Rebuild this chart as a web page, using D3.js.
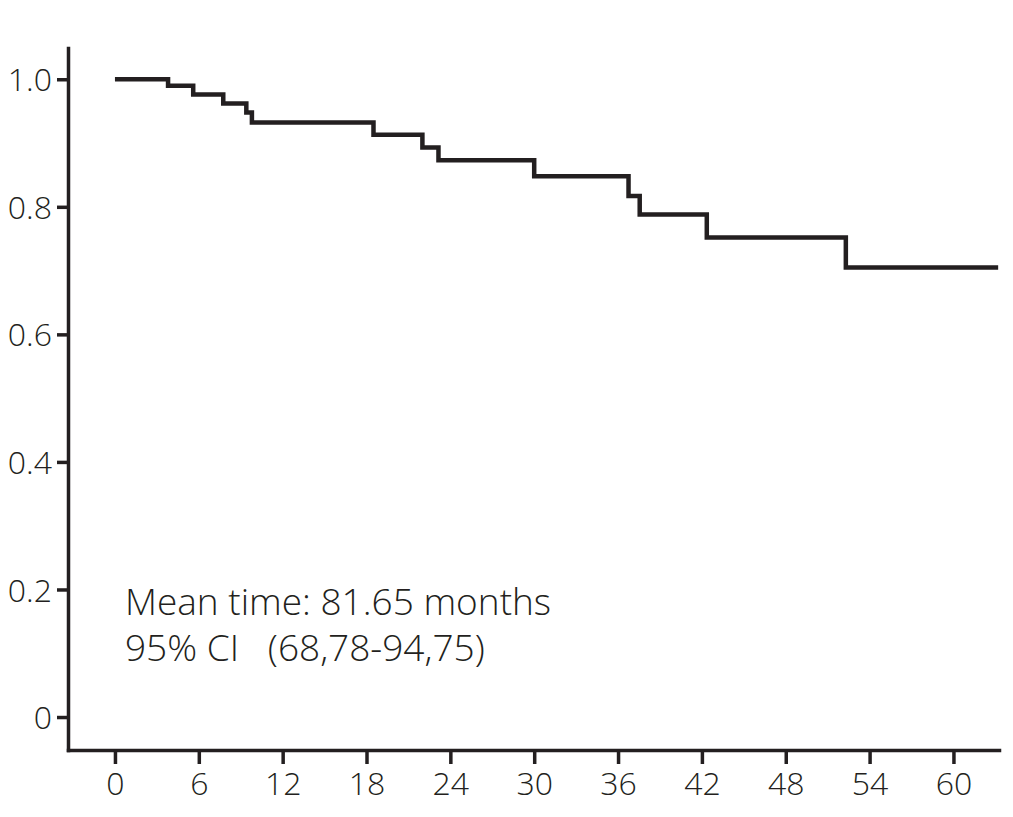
<!DOCTYPE html>
<html>
<head>
<meta charset="utf-8">
<script src="https://cdn.jsdelivr.net/npm/d3@7"></script>
<style>
  body { margin: 0; background: #fff; }
  text { font-family: "Open Sans", "Noto Sans", sans-serif; font-weight: 300; fill: #231f20; }
</style>
</head>
<body>
<div id="chart"></div>
<script>
// Kaplan-Meier step points (months, survival)
var times    = [0, 3.8, 5.6, 7.75, 9.4, 9.8, 18.5, 22.0, 23.15, 30.0, 36.75, 37.55, 42.35, 52.3, 63.2];
var survival = [1.0, 0.990, 0.976, 0.962, 0.948, 0.932, 0.913, 0.893, 0.873, 0.848, 0.817, 0.788, 0.752, 0.705, 0.705];

var xTicks = [0, 6, 12, 18, 24, 30, 36, 42, 48, 54, 60];
var yTicks = [0, 0.2, 0.4, 0.6, 0.8, 1.0];
var yTickLabels = ['0', '0.2', '0.4', '0.6', '0.8', '1.0'];

var noteLines = ['Mean time: 81.65 months', '95% CI\u00a0\u00a0\u00a0(68,78-94,75)'];

var svgWidth = 1013;
var svgHeight = 817;
var ink = '#231f20';

var svg = d3.select('#chart').append('svg')
  .attr('width', svgWidth)
  .attr('height', svgHeight);

// scales chosen so 0 month sits at x=115 and 60 at x=953
var xScale = d3.scaleLinear()
  .domain([-3.36, 63.26])
  .range([68, 999]);

var yScale = d3.scaleLinear()
  .domain([-0.0517, 1.049])
  .range([750, 48]);

// x axis
var xAxis = d3.axisBottom(xScale)
  .tickValues(xTicks)
  .tickSize(14)
  .tickSizeOuter(0)
  .tickPadding(8);

var gx = svg.append('g')
  .attr('transform', 'translate(0,750)')
  .call(xAxis);

// y axis
var yAxis = d3.axisLeft(yScale)
  .tickValues(yTicks)
  .tickFormat(function(d, i) { return yTickLabels[i]; })
  .tickSize(11)
  .tickSizeOuter(0)
  .tickPadding(5);

var gy = svg.append('g')
  .attr('transform', 'translate(68,0)')
  .call(yAxis);

[gx, gy].forEach(function(g) {
  g.select('.domain')
    .attr('stroke', ink)
    .attr('stroke-width', 3.5)
    .attr('stroke-linecap', 'square');
  g.selectAll('.tick line')
    .attr('stroke', ink)
    .attr('stroke-width', 3.5);
  g.selectAll('.tick text')
    .style('font-size', '32px')
    .style('font-family', '"Open Sans", sans-serif')
    .style('font-weight', 300)
    .attr('fill', ink);
});
gy.selectAll('.tick text').attr('dy', '0.36em');

// survival curve
var points = times.map(function(t, i) { return { t: t, s: survival[i] }; });

var line = d3.line()
  .x(function(d) { return xScale(d.t); })
  .y(function(d) { return yScale(d.s); })
  .curve(d3.curveStepAfter);

svg.append('path')
  .datum(points)
  .attr('d', line)
  .attr('fill', 'none')
  .attr('stroke', ink)
  .attr('stroke-width', 4.5)
  .attr('stroke-linejoin', 'miter')
  .attr('stroke-linecap', 'butt');

// annotation
var note = svg.append('text')
  .attr('x', 125)
  .attr('y', 615)
  .style('font-size', '37px');

note.selectAll('tspan')
  .data(noteLines)
  .enter()
  .append('tspan')
  .attr('x', 125)
  .attr('dy', function(d, i) { return i === 0 ? 0 : 46; })
  .text(function(d) { return d; });
</script>
</body>
</html>
